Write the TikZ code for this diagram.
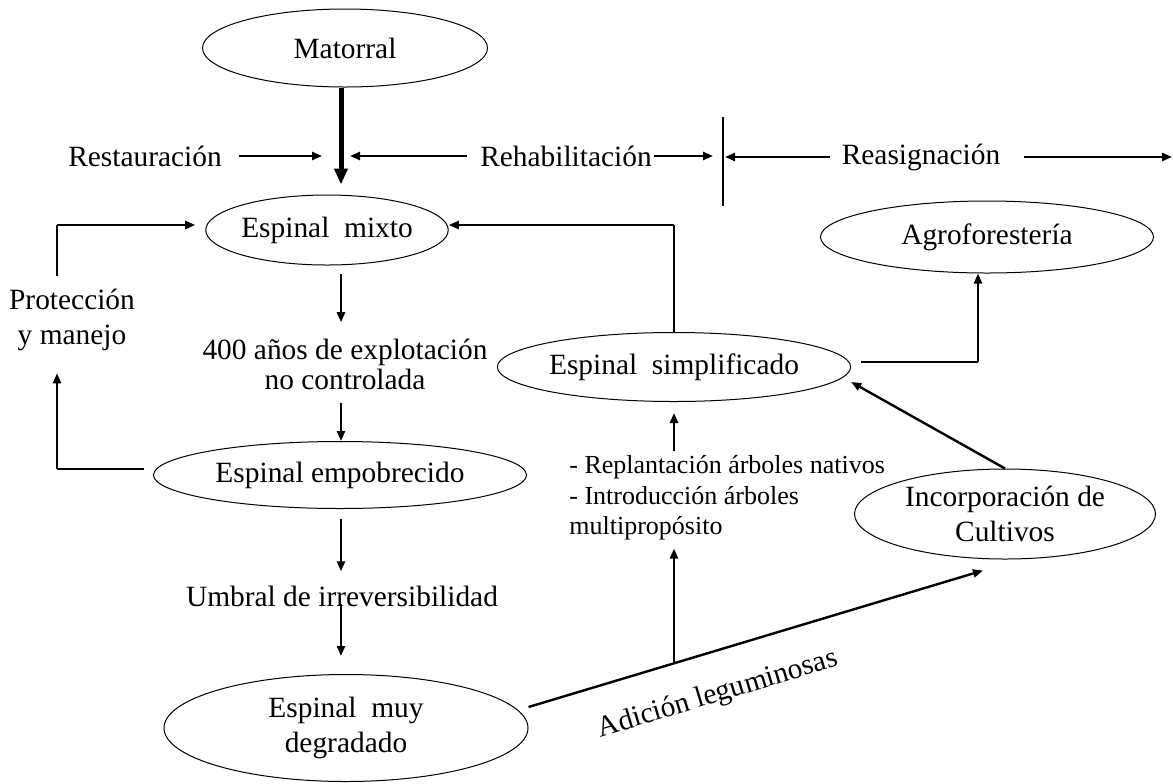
\documentclass[tikz,border=0pt]{standalone}
\usepackage{fontspec}
\setmainfont{Liberation Serif}
\usetikzlibrary{arrows.meta,calc}
\usetikzlibrary{positioning,shapes}

\tikzset{
  estado/.style={draw, ellipse, line width=0.5pt, inner sep=0pt, align=center, font=\fontsize{14.7}{17.5}\selectfont},
  texto/.style={inner sep=0pt, align=center, font=\fontsize{14.7}{17.5}\selectfont},
  flecha/.style={-{Triangle[length=5pt,width=4pt]}, line width=1.2pt},
  gruesa/.style={-{Triangle[length=8pt,width=6.5pt]}, line width=2.5pt},
  linea/.style={line width=0.6pt}
}

\begin{document}
\begin{tikzpicture}[x=0.5pt,y=-0.5pt]
\useasboundingbox (0,0) rectangle (1173,783);

\draw (345,48) node[estado, minimum width=142.5pt, minimum height=39pt] (mat) {Matorral};
\draw (327,230) node[estado, minimum width=113.5pt, minimum height=35pt] (mixto) {Espinal\ \ mixto};
\draw (340,475) node[estado, minimum width=186.5pt, minimum height=33.5pt] (empob) {Espinal empobrecido};
\draw (346,728) node[estado, minimum width=182pt, minimum height=53.5pt] (muydeg) {Espinal\ \ muy\\degradado};
\draw (674,367) node[estado, minimum width=147.5pt, minimum height=34.5pt] (simpl) {Espinal\ \ simplificado};
\draw (987,237) node[estado, minimum width=166.5pt, minimum height=36pt] (agro) {Agroforester\'ia};
\draw (1005,514) node[estado, minimum width=150.5pt, minimum height=45pt] (incorp) {Incorporaci\'on de\\Cultivos};

\draw (145,156) node[texto] (rest) {Restauraci\'on};
\draw (566,156) node[texto] (rehab) {Rehabilitaci\'on};
\draw (921,157) node[texto] (reasig) {Reasignaci\'on};
\draw (72,320) node[texto] (prot) {Protecci\'on\\y manejo};
\draw (345,364) node[texto, font=\fontsize{14.7}{15}\selectfont] (expl) {400 a\~nos de explotaci\'on\\no controlada};
\draw (342,596) node[texto] (umbral) {Umbral de irreversibilidad};
\draw (569,498) node[texto, anchor=west, align=left, font=\fontsize{13}{15.2}\selectfont] (replant) {- Replantaci\'on \'arboles nativos\\- Introducci\'on \'arboles\\multiprop\'osito};

\coordinate (eje) at (341,156);
\coordinate (sepA) at (723,117);
\coordinate (sepB) at (723,206);
\coordinate (fin) at (1172,157);
\coordinate (izq) at (57,0);

\draw[gruesa] (mat.south -| eje) -- ([yshift=5pt]mixto.north -| eje);
\draw[flecha] ([xshift=8.5pt]rest.east) -- ([xshift=-9.5pt]eje);
\draw[flecha] ([xshift=-6.5pt]rehab.west) -- ([xshift=4.5pt]eje);
\draw[flecha] ([xshift=1pt]rehab.east) -- ([xshift=-5pt]sepA |- eje);
\draw[linea] (sepA) -- (sepB);
\draw[flecha] ([xshift=-5.5pt]reasig.west) -- ([xshift=1pt]sepA |- reasig);
\draw[flecha] ([xshift=11.5pt]reasig.east) -- (fin);

\draw[flecha] ([yshift=-4pt]mixto.south -| eje) -- ([yshift=8pt]expl.north -| eje);
\draw[flecha] ([yshift=-6.5pt]expl.south -| eje) -- (empob.north -| eje);
\draw[flecha] ([yshift=-5pt]empob.south -| eje) -- ([yshift=7pt]umbral.north -| eje);
\draw[flecha] ([yshift=1.5pt]umbral.south -| eje) -- ([yshift=9pt]muydeg.north -| eje);

\draw[linea] ([yshift=6.5pt]izq |- prot.north) -- ([yshift=2.5pt]izq |- mixto.west);
\draw[flecha] ([yshift=2.5pt]izq |- mixto.west) -- ([xshift=-5pt,yshift=2.5pt]mixto.west);
\draw[linea] ([xshift=-4.5pt,yshift=3pt]empob.west) -- ([yshift=3pt]izq |- empob.west);
\draw[flecha] ([yshift=3pt]izq |- empob.west) -- ([yshift=-11pt]izq |- prot.south);

\draw[linea] (simpl.north) -- ([yshift=2.5pt]simpl.north |- mixto.east);
\draw[flecha] ([yshift=2.5pt]simpl.north |- mixto.east) -- ([yshift=2.5pt]mixto.east);
\draw[linea] ([xshift=5pt,yshift=2.5pt]simpl.east) -- ([xshift=-4.5pt,yshift=2.5pt]agro.south |- simpl.east);
\draw[flecha] ([xshift=-4.5pt,yshift=2.5pt]agro.south |- simpl.east) -- ([xshift=-4.5pt]agro.south);
\draw[flecha] (incorp.north) -- ([yshift=-7.5pt]simpl.east);

\draw[flecha] ([yshift=10.5pt]muydeg.east) -- ([xshift=-11pt,yshift=-5.5pt]incorp.south)
  coordinate[pos=0.321] (leg)
  node[texto, sloped, below=14pt, pos=0.39] (adic) {Adici\'on leguminosas};
\draw[flecha] (leg -| simpl.south) -- ([yshift=-4pt]replant.south -| simpl.south);
\draw[flecha] ([yshift=2pt]replant.north -| simpl.south) -- ([yshift=-5.5pt]simpl.south);
\end{tikzpicture}
\end{document}
